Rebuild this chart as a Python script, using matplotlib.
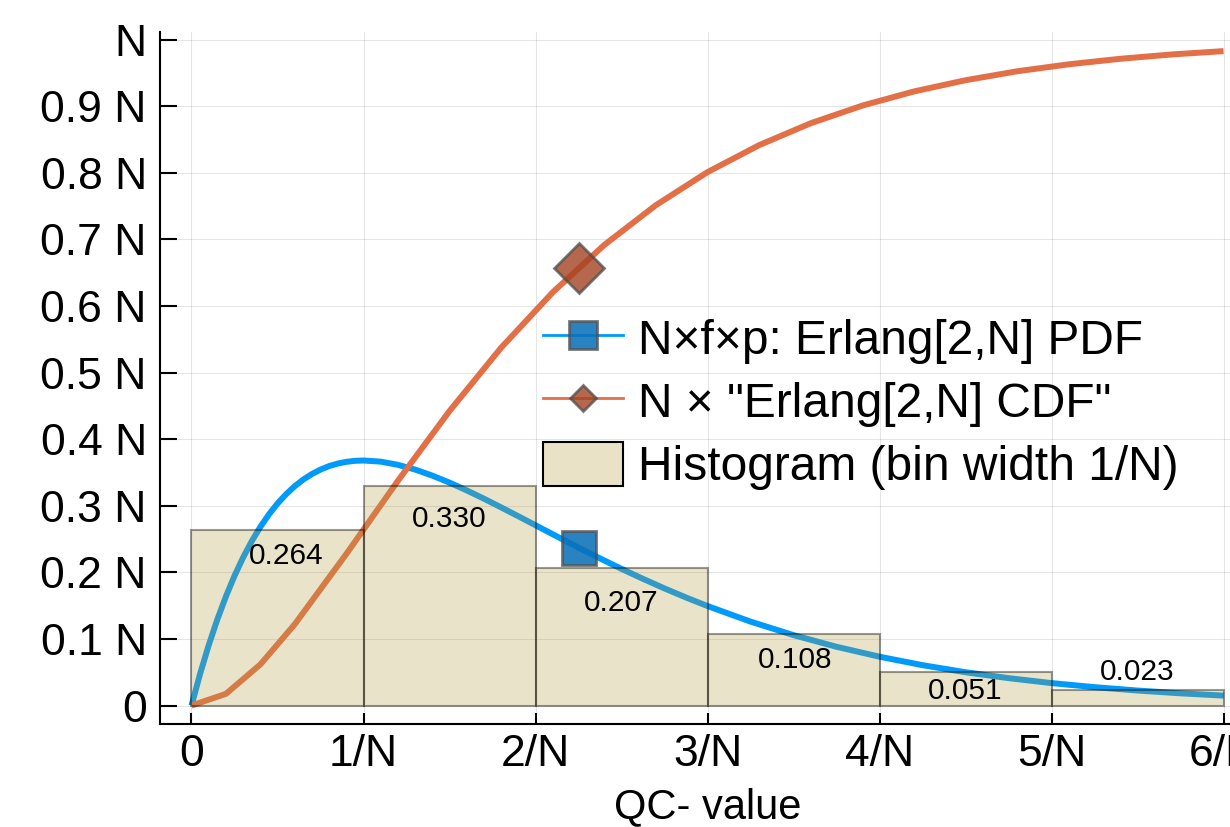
import matplotlib
matplotlib.use("Agg")
import matplotlib.pyplot as plt
from matplotlib.lines import Line2D
from matplotlib.patches import Patch

plt.rcParams["font.family"] = ["Liberation Sans", "DejaVu Sans"]

# histogram (bin width 1/N), heights in units of N
bin_edges = [0, 1, 2, 3, 4, 5, 6]
hist_heights = [0.264, 0.330, 0.207, 0.108, 0.051, 0.023]
hist_labels = ["0.264", "0.330", "0.207", "0.108", "0.051", "0.023"]
# where each bar label sits
label_x = [0.55, 1.50, 2.50, 3.51, 4.50, 5.50]
label_y = [0.224, 0.280, 0.154, 0.068, 0.022, 0.050]

# Erlang[2,N] PDF
pdf_x = [0, 0.05, 0.1, 0.15, 0.2, 0.25, 0.3, 0.35, 0.4, 0.45, 0.5, 0.55,
         0.6, 0.65, 0.7, 0.75, 0.8, 0.85, 0.9, 0.95, 1.0, 1.1, 1.2, 1.3,
         1.4, 1.5, 1.6, 1.7, 1.8, 1.9, 2.0, 2.125, 2.25, 2.375, 2.5, 2.625,
         2.75, 2.875, 3.0, 3.25, 3.5, 3.75, 4.0, 4.25, 4.5, 4.75, 5.0, 5.25,
         5.5, 5.75, 6.0]
pdf_y = [0, 0.0476, 0.0905, 0.1291, 0.1637, 0.1947, 0.2222, 0.2466, 0.2681,
         0.2869, 0.3033, 0.3173, 0.3293, 0.3393, 0.3476, 0.3543, 0.3595,
         0.3633, 0.3659, 0.3674, 0.3679, 0.3662, 0.3614, 0.3543, 0.3452,
         0.3347, 0.3230, 0.3106, 0.2975, 0.2842, 0.2707, 0.2538, 0.2371,
         0.2209, 0.2052, 0.1902, 0.1758, 0.1622, 0.1494, 0.1260, 0.1057,
         0.0882, 0.0733, 0.0606, 0.0500, 0.0411, 0.0337, 0.0276, 0.0225,
         0.0183, 0.0149]

# N x Erlang[2,N] CDF
cdf_x = [0, 0.2, 0.4, 0.6, 0.9, 1.2, 1.5, 1.8, 2.1, 2.4, 2.7, 3.0, 3.3, 3.6,
         3.9, 4.2, 4.5, 4.8, 5.1, 5.4, 5.7, 6.0]
cdf_y = [0, 0.0175, 0.0616, 0.1219, 0.2275, 0.3374, 0.4422, 0.5372, 0.6204,
         0.6916, 0.7513, 0.8009, 0.8414, 0.8743, 0.9008, 0.9220, 0.9389,
         0.9523, 0.9628, 0.9711, 0.9776, 0.9826]

# highlighted points
mark_x = 2.25
mark_pdf = 0.237
mark_cdf = 0.657

xticks = [0, 1, 2, 3, 4, 5, 6]
xticklabels = ["0", "1/N", "2/N", "3/N", "4/N", "5/N", "6/N"]
yticks = [0, 0.1, 0.2, 0.3, 0.4, 0.5, 0.6, 0.7, 0.8, 0.9, 1.0]
yticklabels = ["0", "0.1 N", "0.2 N", "0.3 N", "0.4 N", "0.5 N", "0.6 N",
               "0.7 N", "0.8 N", "0.9 N", "N"]

BLUE = "#009AFA"
ORANGE = "#E36F47"
SQ_FACE = (0.04, 0.44, 0.72, 0.87)
DI_FACE = (0.64, 0.26, 0.13, 0.8)
MK_EDGE = (0.3, 0.3, 0.3, 0.75)
BAR_FACE = (0.70, 0.61, 0.25, 0.28)
BAR_EDGE = (0, 0, 0, 0.4)


def main():
    fig = plt.figure(figsize=(12.3, 8.27), dpi=100)
    ax = fig.add_axes([0.1301, 0.1245, 0.8898, 0.8368])

    ax.plot(pdf_x, pdf_y, color=BLUE, lw=4.3, zorder=2,
            solid_capstyle="butt", solid_joinstyle="round")
    ax.plot(cdf_x, cdf_y, color=ORANGE, lw=4.3, zorder=2,
            solid_capstyle="butt", solid_joinstyle="round")

    ax.bar(bin_edges[:-1], hist_heights, width=1, align="edge",
           facecolor=BAR_FACE, edgecolor=BAR_EDGE, linewidth=1.5, zorder=3)

    for x, y, t in zip(label_x, label_y, hist_labels):
        ax.text(x, y, t, fontsize=21.5, ha="center", va="center", zorder=6)

    ax.plot([mark_x], [mark_pdf], ls="none", marker="s", ms=25,
            mfc=SQ_FACE, mec=MK_EDGE, mew=2, zorder=5)
    ax.plot([mark_x], [mark_cdf], ls="none", marker="D", ms=25,
            mfc=DI_FACE, mec=MK_EDGE, mew=2, zorder=5)

    ax.set_xlim(-0.183, 6.18)
    ax.set_ylim(-0.0278, 1.0113)
    ax.set_xticks(xticks)
    ax.set_xticklabels(xticklabels)
    ax.set_yticks(yticks)
    ax.set_yticklabels(yticklabels)
    ax.tick_params(axis="both", direction="in", width=1.5, labelsize=32)
    ax.tick_params(axis="y", length=12, pad=9.5)
    ax.tick_params(axis="x", length=8, pad=7)

    for s in ("top", "right"):
        ax.spines[s].set_visible(False)
    for s in ("left", "bottom"):
        ax.spines[s].set_linewidth(1.5)

    ax.grid(True, color="black", alpha=0.1, lw=0.8)
    ax.set_axisbelow(True)

    ax.set_xlabel("QC- value", fontsize=30, labelpad=9)

    handles = [
        Line2D([], [], color=BLUE, lw=2, marker="s", ms=20,
               mfc=SQ_FACE, mec=MK_EDGE, mew=2),
        Line2D([], [], color=ORANGE, lw=2, marker="D", ms=13.5,
               mfc=DI_FACE, mec=MK_EDGE, mew=2),
        Patch(facecolor="#E9E2C6", edgecolor="black", linewidth=1.5),
    ]
    labels = ["N×f×p: Erlang[2,N] PDF", 'N × "Erlang[2,N] CDF"',
              "Histogram (bin width 1/N)"]
    ax.legend(handles, labels, loc="upper left",
              bbox_to_anchor=(0.4415, 0.6185), bbox_transform=fig.transFigure,
              frameon=False, fontsize=34.5, borderpad=0, borderaxespad=0,
              handlelength=1.66, handleheight=1.06, handletextpad=0.32,
              labelspacing=0.30)

    fig.savefig("out.png", dpi=100)
    plt.close(fig)


if __name__ == "__main__":
    main()
